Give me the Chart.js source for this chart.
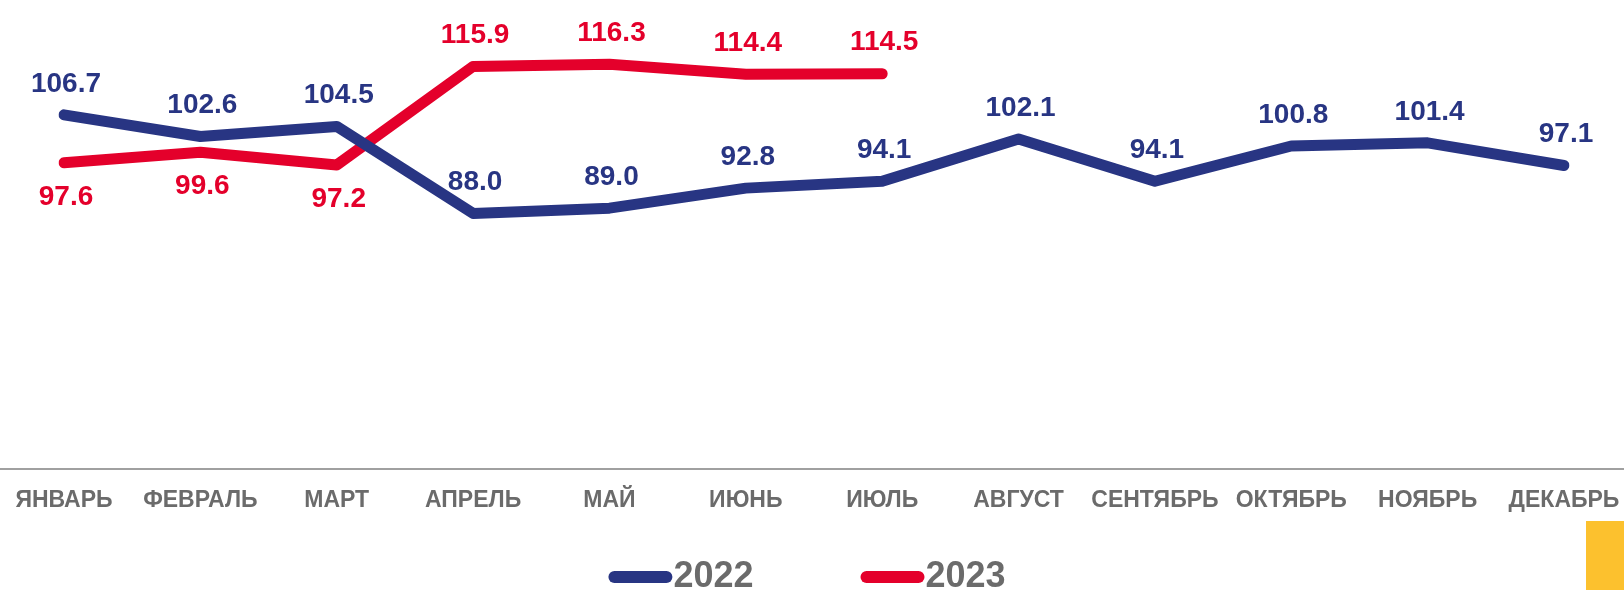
<!DOCTYPE html>
<html>
<head>
<meta charset="utf-8">
<script src="https://cdn.jsdelivr.net/npm/chart.js@4"></script>
<style>
  html, body { margin: 0; padding: 0; background: #fff; }
  #wrap { position: relative; width: 1624px; height: 590px; }
  #corner { position: absolute; left: 1586px; top: 521px; width: 38px; height: 69px; background: #fcc12e; }
</style>
</head>
<body>
<div id="wrap">
  <canvas id="chart"></canvas>
  <div id="corner"></div>
</div>
<script>
const months = ["ЯНВАРЬ", "ФЕВРАЛЬ", "МАРТ", "АПРЕЛЬ", "МАЙ", "ИЮНЬ", "ИЮЛЬ", "АВГУСТ", "СЕНТЯБРЬ", "ОКТЯБРЬ", "НОЯБРЬ", "ДЕКАБРЬ"];
const values2022 = [106.7, 102.6, 104.5, 88.0, 89.0, 92.8, 94.1, 102.1, 94.1, 100.8, 101.4, 97.1];
const values2023 = [97.6, 99.6, 97.2, 115.9, 116.3, 114.4, 114.5];

// where the value label sits for each point
const place2022 = months.map(() => "above");
const place2023 = ["below", "below", "below", "above", "above", "above", "above"];

const FONT = "'Liberation Sans', Arial, sans-serif";
const GREY = "#6b6b6b";

const valueLabels = {
  id: "valueLabels",
  afterDatasetsDraw(chart) {
    const ctx = chart.ctx;
    ctx.save();
    ctx.font = "bold 28px " + FONT;
    ctx.textAlign = "center";
    ctx.textBaseline = "middle";
    chart.data.datasets.forEach((ds, i) => {
      const meta = chart.getDatasetMeta(i);
      meta.data.forEach((pt, j) => {
        const v = ds.data[j];
        if (v == null) return;
        const dy = ds.places[j] === "below" ? 34 : -31;
        ctx.fillStyle = ds.borderColor;
        ctx.fillText(v.toFixed(1), pt.x + 2, pt.y + dy);
      });
    });
    ctx.restore();
  }
};

// grey baseline across the whole width
const baseLine = {
  id: "baseLine",
  beforeDatasetsDraw(chart) {
    const ctx = chart.ctx;
    const y = chart.chartArea.bottom;
    ctx.save();
    ctx.strokeStyle = "#a0a0a0";
    ctx.lineWidth = 2;
    ctx.beginPath();
    ctx.moveTo(0, y);
    ctx.lineTo(chart.width, y);
    ctx.stroke();
    ctx.restore();
  }
};

const bottomLegend = {
  id: "bottomLegend",
  afterDraw(chart) {
    const ctx = chart.ctx;
    ctx.save();
    ctx.font = "bold 36px " + FONT;
    ctx.textBaseline = "middle";
    const boxW = 64, boxH = 12, gap = 107;
    const items = chart.data.datasets.map((ds) => ({ text: ds.label, color: ds.borderColor, w: boxW + 1 + ctx.measureText(ds.label).width }));
    const total = items.reduce((s, it) => s + it.w, 0) + gap * (items.length - 1);
    let x = chart.width / 2 - 5 - total / 2;
    const y = 577;
    items.forEach((it) => {
      ctx.fillStyle = it.color;
      ctx.beginPath();
      ctx.roundRect(x, y - boxH / 2, boxW, boxH, boxH / 2);
      ctx.fill();
      ctx.fillStyle = GREY;
      ctx.fillText(it.text, x + boxW + 1, y);
      x += it.w + gap;
    });
    ctx.restore();
  }
};

new Chart(document.getElementById("chart"), {
  type: "line",
  data: {
    labels: months,
    datasets: [
      {
        label: "2022",
        data: values2022,
        places: place2022,
        borderColor: "#283583",
        backgroundColor: "#283583",
      },
      {
        label: "2023",
        data: values2023,
        places: place2023,
        borderColor: "#e4002b",
        backgroundColor: "#e4002b",
      }
    ]
  },
  options: {
    responsive: true,
    maintainAspectRatio: false,
    animation: false,
    layout: { padding: { left: 64, right: 60, top: 0, bottom: 0 } },
    elements: {
      line: { borderWidth: 11, tension: 0, borderCapStyle: "round", borderJoinStyle: "round" },
      point: { radius: 0, hoverRadius: 0 }
    },
    plugins: {
      legend: { display: false },
      tooltip: { enabled: false }
    },
    scales: {
      y: { display: false, min: 39.5, max: 128.5 },
      x: {
        offset: false,
        grid: { display: false, drawTicks: false },
        border: { display: false },
        ticks: {
          autoSkip: false,
          maxRotation: 0,
          padding: 18,
          color: GREY,
          font: { family: FONT, size: 23, weight: "bold" }
        },
        afterFit(scale) {
          scale.height = 121;
          scale.paddingLeft = 0;
          scale.paddingRight = 0;
        }
      }
    }
  },
  plugins: [baseLine, valueLabels, bottomLegend]
});
</script>
</body>
</html>
